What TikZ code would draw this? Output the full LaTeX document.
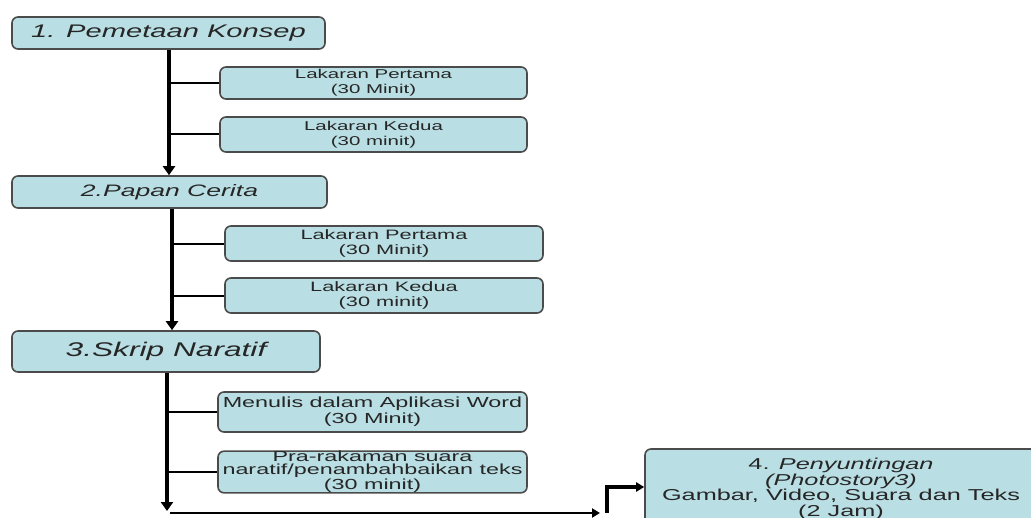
\documentclass[tikz,border=0pt]{standalone}
\usepackage{fontspec}
\setmainfont[FakeStretch=1.6]{Liberation Sans}
\usetikzlibrary{
	arrows.meta,
	calc,
	positioning
}
\definecolor{BoxBlue}{RGB}{185,222,227}
\definecolor{EdgeGray}{RGB}{75,75,75}

\begin{document}
\begin{tikzpicture}[x=0.5pt, y=-0.5pt,
		box/.style={draw=EdgeGray, line width=0.8pt, fill=BoxBlue, rounded corners=3pt, align=center, inner sep=0pt, text=black!85},
		trunk/.style={line width=2pt, -{Triangle[width=6pt,length=4.5pt]}},
		branch/.style={line width=1pt},
		feed/.style={line width=1.2pt, -{Triangle[width=4.5pt,length=4pt]}}]
		\useasboundingbox (0,0) rectangle (1031,518);
		
		% langkah utama
		\node[box, minimum width=156.5pt, minimum height=16pt, font=\fontsize{9.1}{10}\selectfont\itshape] (k1) at (168.5,33) {1. Pemetaan Konsep};
		\node[box, minimum width=157.5pt, minimum height=16pt, font=\fontsize{8.3}{9}\selectfont\itshape] (k2) at (169.5,192) {2.Papan Cerita};
		\node[box, minimum width=154pt, minimum height=20.5pt, font=\fontsize{9.9}{10}\selectfont\itshape] (k3) at (166,351.5) {3.Skrip Naratif};
		\node[box, minimum width=196pt, minimum height=40pt, font=\fontsize{7.9}{7.9}\selectfont] (k4) at (841,489) {4. \textit{Penyuntingan}\\\textit{(Photostory3)}\\Gambar, Video, Suara dan Teks\\(2 Jam)};
		
		% kotak kecil
		\node[box, minimum width=153.5pt, minimum height=16pt, font=\fontsize{6.4}{7.5}\selectfont] (lp1) at (373.5,83) {Lakaran Pertama\\(30 Minit)};
		\node[box, minimum width=153.5pt, minimum height=17.5pt, font=\fontsize{6.4}{7.5}\selectfont] (lk1) at (373.5,134.5) {Lakaran Kedua\\(30 minit)};
		\node[box, minimum width=159pt, minimum height=17.5pt, font=\fontsize{6.8}{7.5}\selectfont] (lp2) at (384,243.5) {Lakaran Pertama\\(30 Minit)};
		\node[box, minimum width=159pt, minimum height=17.5pt, font=\fontsize{6.8}{7.5}\selectfont] (lk2) at (384,295.5) {Lakaran Kedua\\(30 minit)};
		\node[box, minimum width=154.5pt, minimum height=20pt, font=\fontsize{7.3}{6.6}\selectfont] (m3) at (372.5,412) {Menulis dalam Aplikasi Word\\(30 Minit)};
		\node[box, minimum width=154.5pt, minimum height=20pt, font=\fontsize{7.3}{6.2}\selectfont] (pr3) at (372.5,472) {Pra-rakaman suara\\naratif/penambahbaikan teks\\(30 minit)};
		
		% batang
		\coordinate (t1) at (169,0);
		\coordinate (t2) at (172,0);
		\coordinate (t3) at (167,0);
		\draw[trunk] (k1.south -| t1) -- (k2.north -| t1);
		\draw[branch] (lp1.west -| t1) -- (lp1.west);
		\draw[branch] (lk1.west -| t1) -- (lk1.west);
		
		\draw[trunk] (k2.south -| t2) -- (k3.north -| t2);
		\draw[branch] (lp2.west -| t2) -- (lp2.west);
		\draw[branch] (lk2.west -| t2) -- (lk2.west);
		
		\coordinate (c3) at (167,511);
		\draw[trunk] (k3.south -| t3) -- (c3);
		\draw[branch] (m3.west -| t3) -- (m3.west);
		\draw[branch] (pr3.west -| t3) -- (pr3.west);
		
		% ke penyuntingan
		\coordinate (h0) at (170,513);
		\coordinate (h1) at (600,513);
		\coordinate (h2) at (607,513);
		\coordinate (h3) at (607,487);
		\draw[feed] (h0) -- (h1);
		\draw[feed, line width=1.6pt] (h2) -- (h3) -- (h3 -| k4.west);
		
	\end{tikzpicture}
\end{document}
